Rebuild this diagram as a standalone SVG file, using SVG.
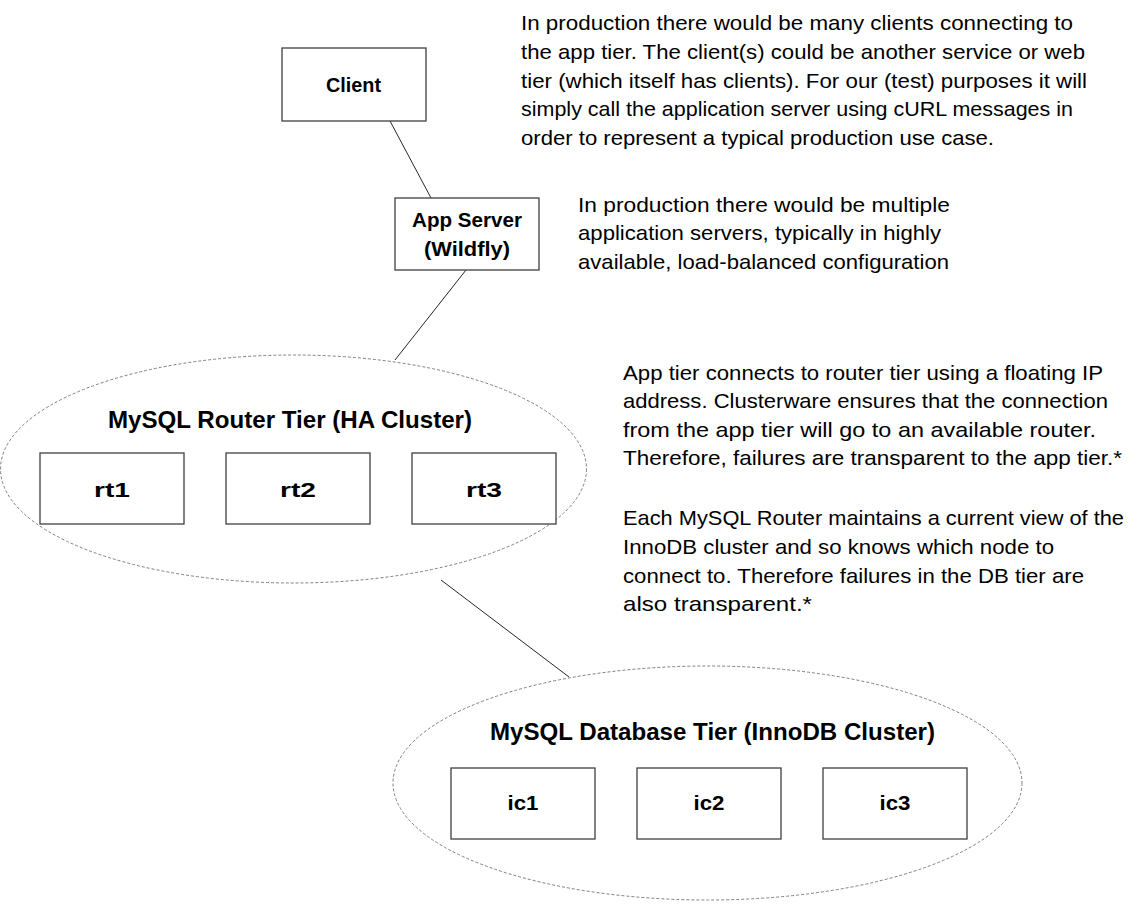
<svg xmlns="http://www.w3.org/2000/svg" width="1143" height="905" viewBox="0 0 1143 905">
<style>
.box{fill:#fff;stroke:#404040;stroke-width:1.3}
.cluster{fill:none;stroke:#7f7f7f;stroke-width:1;stroke-dasharray:3,2}
.conn{stroke:#262626;stroke-width:1;fill:none}
.lbl{font-family:"Liberation Sans",Arial,sans-serif;font-weight:bold;font-size:20px;fill:#000;text-anchor:middle}
.title{font-family:"Liberation Sans",Arial,sans-serif;font-weight:bold;font-size:23px;fill:#000}
.note{font-family:"Liberation Sans",Arial,sans-serif;font-size:21px;fill:#000}
</style>
<rect width="1143" height="905" fill="#fff"/>
<g id="connectors">
<line class="conn" x1="390" y1="121" x2="431" y2="198"/>
<line class="conn" x1="466" y1="270" x2="395" y2="360"/>
<line class="conn" x1="441" y1="580" x2="569" y2="677"/>
</g>
<g id="router-cluster">
<ellipse class="cluster" cx="293.5" cy="469" rx="293" ry="114"/>
<text class="title" x="108" y="428" textLength="364" lengthAdjust="spacingAndGlyphs">MySQL Router Tier (HA Cluster)</text>
</g>
<g id="db-cluster">
<ellipse class="cluster" cx="707.5" cy="783" rx="314.5" ry="117"/>
<text class="title" x="490" y="740" textLength="445" lengthAdjust="spacingAndGlyphs">MySQL Database Tier (InnoDB Cluster)</text>
</g>
<g id="client">
<rect class="box" x="282" y="48" width="144" height="73"/>
<text class="lbl" x="353.5" y="92" textLength="55" lengthAdjust="spacingAndGlyphs">Client</text>
</g>
<g id="appserver">
<rect class="box" x="395" y="198" width="144" height="72"/>
<text class="lbl" x="467" y="227" textLength="110" lengthAdjust="spacingAndGlyphs">App Server</text>
<text class="lbl" x="467" y="256" textLength="86" lengthAdjust="spacingAndGlyphs">(Wildfly)</text>
</g>
<g id="rt1">
<rect class="box" x="40" y="453" width="144" height="71"/>
<text class="lbl" x="112" y="497" textLength="36" lengthAdjust="spacingAndGlyphs">rt1</text>
</g>
<g id="rt2">
<rect class="box" x="226" y="453" width="144" height="71"/>
<text class="lbl" x="298" y="497" textLength="36" lengthAdjust="spacingAndGlyphs">rt2</text>
</g>
<g id="rt3">
<rect class="box" x="412" y="453" width="144" height="71"/>
<text class="lbl" x="484" y="497" textLength="36" lengthAdjust="spacingAndGlyphs">rt3</text>
</g>
<g id="ic1">
<rect class="box" x="451" y="768" width="144" height="71"/>
<text class="lbl" x="523" y="810" textLength="31" lengthAdjust="spacingAndGlyphs">ic1</text>
</g>
<g id="ic2">
<rect class="box" x="637" y="768" width="144" height="71"/>
<text class="lbl" x="709" y="810" textLength="31" lengthAdjust="spacingAndGlyphs">ic2</text>
</g>
<g id="ic3">
<rect class="box" x="823" y="768" width="144" height="71"/>
<text class="lbl" x="895" y="810" textLength="31" lengthAdjust="spacingAndGlyphs">ic3</text>
</g>
<g id="note-client">
<text class="note" x="521" y="30" textLength="552" lengthAdjust="spacingAndGlyphs">In production there would be many clients connecting to</text>
<text class="note" x="521" y="59" textLength="564" lengthAdjust="spacingAndGlyphs">the app tier. The client(s) could be another service or web</text>
<text class="note" x="521" y="88" textLength="566" lengthAdjust="spacingAndGlyphs">tier (which itself has clients). For our (test) purposes it will</text>
<text class="note" x="521" y="116" textLength="552" lengthAdjust="spacingAndGlyphs">simply call the application server using cURL messages in</text>
<text class="note" x="521" y="145" textLength="473" lengthAdjust="spacingAndGlyphs">order to represent a typical production use case.</text>
</g>
<g id="note-app">
<text class="note" x="578" y="212" textLength="372" lengthAdjust="spacingAndGlyphs">In production there would be multiple</text>
<text class="note" x="578" y="240" textLength="363" lengthAdjust="spacingAndGlyphs">application servers, typically in highly</text>
<text class="note" x="578" y="269" textLength="371" lengthAdjust="spacingAndGlyphs">available, load-balanced configuration</text>
</g>
<g id="note-router">
<text class="note" x="623" y="380" textLength="480" lengthAdjust="spacingAndGlyphs">App tier connects to router tier using a floating IP</text>
<text class="note" x="623" y="408" textLength="485" lengthAdjust="spacingAndGlyphs">address. Clusterware ensures that the connection</text>
<text class="note" x="623" y="437" textLength="473" lengthAdjust="spacingAndGlyphs">from the app tier will go to an available router.</text>
<text class="note" x="623" y="465" textLength="499" lengthAdjust="spacingAndGlyphs">Therefore, failures are transparent to the app tier.*</text>
</g>
<g id="note-db">
<text class="note" x="623" y="525" textLength="501" lengthAdjust="spacingAndGlyphs">Each MySQL Router maintains a current view of the</text>
<text class="note" x="623" y="554" textLength="431" lengthAdjust="spacingAndGlyphs">InnoDB cluster and so knows which node to</text>
<text class="note" x="623" y="583" textLength="461" lengthAdjust="spacingAndGlyphs">connect to. Therefore failures in the DB tier are</text>
<text class="note" x="623" y="611" textLength="189" lengthAdjust="spacingAndGlyphs">also transparent.*</text>
</g>
</svg>
